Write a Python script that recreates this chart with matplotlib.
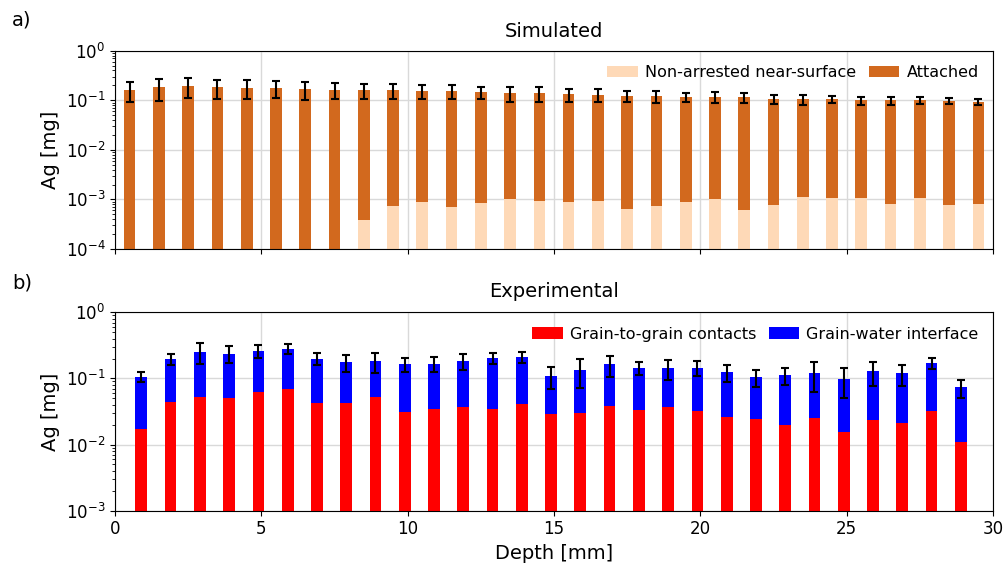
import numpy as np
import matplotlib
matplotlib.use("Agg")
import matplotlib.pyplot as plt

# simulated (top): 30 depth bins
sim_depth = np.arange(30) + 0.5
sim_nonarrested = [0, 0, 0, 0, 0, 0, 0, 0, 3.9e-4, 7.5e-4,
                   8.8e-4, 7.1e-4, 8.4e-4, 1.04e-3, 9.5e-4, 8.9e-4, 9.5e-4, 6.5e-4, 7.5e-4, 8.9e-4,
                   1.0e-3, 6.1e-4, 7.9e-4, 1.12e-3, 1.07e-3, 1.06e-3, 8.0e-4, 1.07e-3, 7.7e-4, 8.2e-4]
sim_total = [0.164, 0.185, 0.194, 0.183, 0.180, 0.177, 0.167, 0.164, 0.161, 0.161,
             0.156, 0.154, 0.145, 0.138, 0.140, 0.132, 0.130, 0.124, 0.122, 0.117,
             0.118, 0.115, 0.106, 0.106, 0.106, 0.100, 0.100, 0.100, 0.097, 0.092]
sim_attached = [t - n for t, n in zip(sim_total, sim_nonarrested)]
sim_err = [0.070, 0.087, 0.083, 0.078, 0.072, 0.067, 0.066, 0.059, 0.055, 0.055,
           0.051, 0.047, 0.041, 0.046, 0.048, 0.040, 0.038, 0.031, 0.032, 0.025,
           0.029, 0.028, 0.023, 0.024, 0.018, 0.018, 0.018, 0.017, 0.014, 0.013]

# experimental (bottom): 29 depth bins
exp_depth = np.arange(1, 30) - 0.1
exp_contacts = [0.0173, 0.044, 0.0529, 0.0505, 0.063, 0.069, 0.043, 0.043, 0.052, 0.0307,
                0.034, 0.0373, 0.034, 0.0406, 0.0292, 0.030, 0.0382, 0.0329, 0.0369, 0.0321,
                0.0261, 0.0245, 0.0195, 0.0255, 0.0156, 0.0237, 0.0211, 0.0325, 0.0108]
exp_interface = [0.0877, 0.152, 0.201, 0.186, 0.197, 0.213, 0.156, 0.132, 0.131, 0.134,
                 0.133, 0.146, 0.170, 0.172, 0.081, 0.105, 0.125, 0.111, 0.107, 0.113,
                 0.098, 0.0805, 0.093, 0.0955, 0.0824, 0.105, 0.098, 0.1385, 0.0625]
exp_total = [c + i for c, i in zip(exp_contacts, exp_interface)]
exp_err = [0.018, 0.035, 0.089, 0.068, 0.056, 0.050, 0.040, 0.050, 0.062, 0.040,
           0.041, 0.050, 0.036, 0.039, 0.041, 0.063, 0.058, 0.031, 0.049, 0.038,
           0.036, 0.030, 0.032, 0.059, 0.047, 0.051, 0.042, 0.033, 0.023]

bar_w = 0.4
light = '#fed9b7'
dark = '#d2691e'
tick_fs = 12
label_fs = 14

fig = plt.figure(figsize=(10.07, 5.68), dpi=100)
ax1 = fig.add_axes([0.1142, 0.5616, 0.8719, 0.3491])
ax2 = fig.add_axes([0.1142, 0.1009, 0.8719, 0.3493], sharex=ax1)

ax1.bar(sim_depth, sim_nonarrested, bar_w, color=light, label='Non-arrested near-surface')
ax1.bar(sim_depth, sim_attached, bar_w, bottom=sim_nonarrested, color=dark, label='Attached')
ax1.errorbar(sim_depth, sim_total, yerr=sim_err, fmt='none', ecolor='black',
             elinewidth=1.5, capsize=3, capthick=1.5)

ax2.bar(exp_depth, exp_contacts, bar_w, color='red', label='Grain-to-grain contacts')
ax2.bar(exp_depth, exp_interface, bar_w, bottom=exp_contacts, color='blue',
        label='Grain-water interface')
ax2.errorbar(exp_depth, exp_total, yerr=exp_err, fmt='none', ecolor='black',
             elinewidth=1.5, capsize=3, capthick=1.5)

for ax, lo in ((ax1, 1e-4), (ax2, 1e-3)):
    ax.set_yscale('log')
    ax.set_ylim(lo, 1)
    ax.set_xlim(0, 30)
    ax.set_axisbelow(True)
    ax.grid(True, which='major', color='#d9d9d9', linewidth=1)
    ax.set_ylabel('Ag [mg]', fontsize=label_fs)
    ax.tick_params(labelsize=tick_fs)
    ax.legend(loc='upper right', ncol=2, frameon=False, fontsize=11.5,
              handlelength=1.9, handletextpad=0.45, columnspacing=0.8)

ax1.set_xticks([0, 5, 10, 15, 20, 25, 30])
ax1.tick_params(axis='x', labelbottom=False)
ax1.set_title('Simulated', fontsize=label_fs, pad=10)
ax2.set_title('Experimental', fontsize=label_fs, pad=11)
ax2.set_xlabel('Depth [mm]', fontsize=label_fs)

fig.text(0.012, 0.965, 'a)', fontsize=label_fs, va='center')
fig.text(0.012, 0.502, 'b)', fontsize=label_fs, va='center')

fig.savefig('out.png', dpi=100)
